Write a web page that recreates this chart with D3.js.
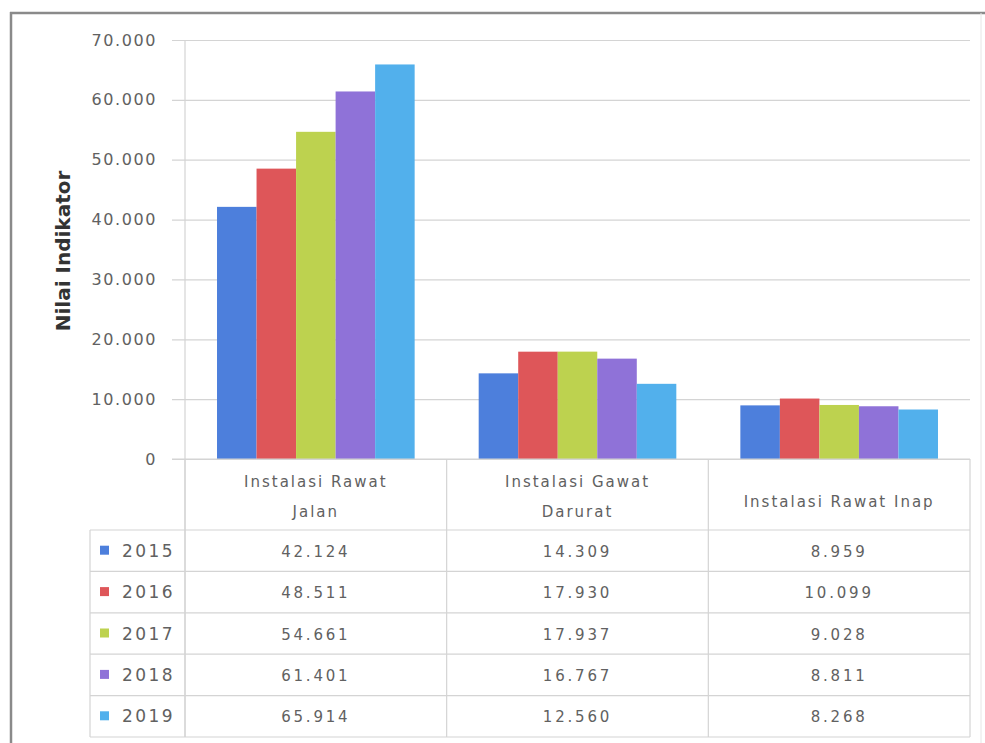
<!DOCTYPE html>
<html><head><meta charset="utf-8">
<script src="https://cdn.jsdelivr.net/npm/d3@7"></script>
<style>body{margin:0;background:#fff}svg{display:block}</style>
</head><body>
<svg id="c" width="985" height="743"></svg>
<script>
const categories = [["Instalasi Rawat", "Jalan"], ["Instalasi Gawat", "Darurat"], ["Instalasi Rawat Inap"]];
const years = ["2015", "2016", "2017", "2018", "2019"];
const v2015 = [42124, 14309, 8959];
const v2016 = [48511, 17930, 10099];
const v2017 = [54661, 17937, 9028];
const v2018 = [61401, 16767, 8811];
const v2019 = [65914, 12560, 8268];
const series = [v2015, v2016, v2017, v2018, v2019];
const colors = ["#4d7fdc", "#de5659", "#bdd24f", "#8f72d8", "#52b0ec"];
const yTicks = [0, 10000, 20000, 30000, 40000, 50000, 60000, 70000];

const svg = d3.select("#c");
const fmt = v => d3.format(",")(v).replace(/,/g, ".");
const W = {left:185, right:970, top:40, bottom:459};
const x0 = d3.scaleBand().domain(d3.range(categories.length)).range([W.left, W.right]).paddingInner(0).paddingOuter(0);
const x1 = d3.scaleBand().domain(d3.range(years.length)).range([0, x0.bandwidth()]).paddingOuter(0.81).paddingInner(0);
const y = d3.scaleLinear().domain([0, 70000]).range([W.bottom, W.top]);
const txtC = "#616161";

// outer frame
svg.append("line").attr("x1",10).attr("x2",985).attr("y1",13).attr("y2",13).attr("stroke","#8a8a8a").attr("stroke-width",2.5);
svg.append("line").attr("x1",11).attr("x2",11).attr("y1",12).attr("y2",743).attr("stroke","#8a8a8a").attr("stroke-width",2.5);
svg.append("line").attr("x1",981).attr("x2",981).attr("y1",13).attr("y2",743).attr("stroke","#e6e6e6").attr("stroke-width",1);

// gridlines + y axis
const yAxis = d3.axisLeft(y).tickValues(yTicks).tickSize(-(W.right - W.left)).tickPadding(28).tickFormat(fmt);
const ga = svg.append("g").attr("transform",`translate(${W.left},0)`).call(yAxis);
ga.select(".domain").remove();
ga.selectAll(".tick line").attr("stroke","#d4d4d4").attr("stroke-width",1.2).attr("x1",-13);
ga.selectAll(".tick text").attr("fill",txtC).style("font-family","DejaVu Sans").style("font-size","16px").style("letter-spacing","1.6px");
svg.append("line").attr("x1",W.left).attr("x2",W.left).attr("y1",W.top).attr("y2",737).attr("stroke","#d4d4d4").attr("stroke-width",1.2);

// y title
svg.append("text").attr("transform","translate(70,251) rotate(-90)").attr("text-anchor","middle")
  .style("font-family","DejaVu Sans").style("font-weight","bold").style("font-size","20px").attr("fill","#333").text("Nilai Indikator");

// bars
categories.forEach((c, ci) => {
  series.forEach((s, si) => {
    svg.append("rect").attr("x", x0(ci) + x1(si)).attr("width", x1.bandwidth())
      .attr("y", y(s[ci])).attr("height", y(0) - y(s[ci])).attr("fill", colors[si]);
  });
});

// data table
const rowTop = 530, rowH = 41.4;
const gridC = "#d4d4d4";
x0.domain().concat([categories.length]).forEach(i => {
  const xx = i < categories.length ? x0(i) : W.right;
  svg.append("line").attr("x1",xx).attr("x2",xx).attr("y1",W.bottom).attr("y2",rowTop + rowH*5).attr("stroke",gridC).attr("stroke-width",1.2);
});
svg.append("line").attr("x1",90).attr("x2",90).attr("y1",rowTop).attr("y2",rowTop + rowH*5).attr("stroke",gridC).attr("stroke-width",1.2);
svg.append("line").attr("x1",W.left-13).attr("x2",W.right).attr("y1",W.bottom).attr("y2",W.bottom).attr("stroke",gridC).attr("stroke-width",1.2);
for (let r = 0; r <= 5; r++) {
  svg.append("line").attr("x1",90).attr("x2",W.right).attr("y1",rowTop + r*rowH).attr("y2",rowTop + r*rowH).attr("stroke",gridC).attr("stroke-width",1.2);
}
// header
categories.forEach((c, ci) => {
  const cx = x0(ci) + x0.bandwidth()/2;
  const t = svg.append("text").attr("text-anchor","middle").attr("fill",txtC)
    .style("font-family","DejaVu Sans").style("font-size","15px").style("letter-spacing","2px");
  const mid = c.length > 1 ? 497 : 502;
  c.forEach((line, li) => {
    t.append("tspan").attr("x", cx).attr("y", mid + 5 + (li - (c.length-1)/2) * 30).text(line);
  });
});
// rows
years.forEach((yr, si) => {
  const cy = rowTop + si*rowH + rowH/2;
  svg.append("rect").attr("x",100).attr("y",cy-5).attr("width",9).attr("height",9).attr("fill",colors[si]);
  svg.append("text").attr("x",122).attr("y",cy+6).attr("fill",txtC)
    .style("font-family","DejaVu Sans").style("font-size","17px").style("letter-spacing","2.4px").text(yr);
  categories.forEach((c, ci) => {
    svg.append("text").attr("x", x0(ci) + x0.bandwidth()/2).attr("y", cy+6).attr("text-anchor","middle").attr("fill",txtC)
      .style("font-family","DejaVu Sans").style("font-size","15px").style("letter-spacing","2.8px").text(fmt(series[si][ci]));
  });
});
</script>
</body></html>
